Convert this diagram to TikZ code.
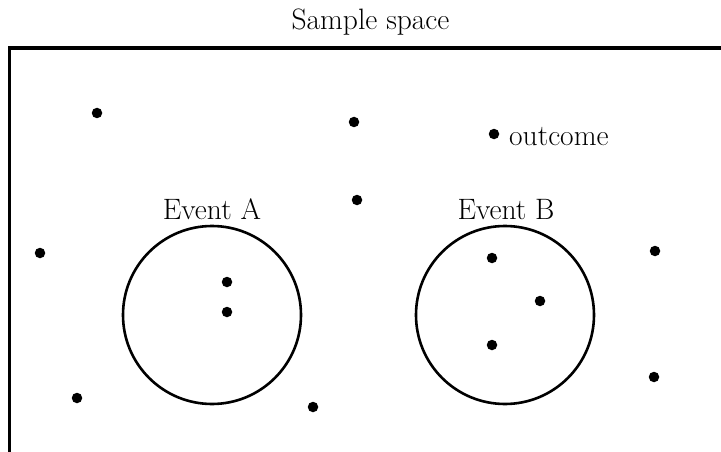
\documentclass[tikz,border=0pt]{standalone}
\usepackage{fontspec}
\setmainfont{Latin Modern Roman}
\begin{document}
\begin{tikzpicture}[x=1pt,y=-1pt,
  dot/.style={circle,fill=black,inner sep=0pt,minimum size=10.5pt},
  lbl/.style={font=\fontsize{29.5}{33}\selectfont,inner sep=0pt},
  evt/.style={circle,draw=black,line width=2.6pt,minimum size=178pt,inner sep=0pt}]
\useasboundingbox (0,0) rectangle (721,452);
\coordinate (fb) at (9.5,452);
\coordinate (fc) at (9.5,48);
\coordinate (fr) at (721,48);
\draw[line width=3.6pt,line join=miter] (fb) -- (fc) -- (fr);
\node[lbl,anchor=base] (title) at (370.5,30) {Sample space};
\node[evt] (A) at (212,315) {};
\node[evt] (B) at (505,315) {};
\node[lbl,anchor=base] (la) at (212,219) {Event\hspace{9pt}A};
\node[lbl,anchor=base] (lb) at (506,219) {Event B};
\node[dot] (d1) at (97,113) {};
\node[dot] (d2) at (354,122) {};
\node[dot] (d3) at (494,134) {};
\node[lbl,anchor=base west] (out) at (509,146) {outcome};
\node[dot] (d4) at (357,200) {};
\node[dot] (d5) at (40,253) {};
\node[dot] (d6) at (227,282) {};
\node[dot] (d7) at (227,312) {};
\node[dot] (d8) at (492,258) {};
\node[dot] (d9) at (540,301) {};
\node[dot] (d10) at (492,345) {};
\node[dot] (d11) at (655,251) {};
\node[dot] (d12) at (654,377) {};
\node[dot] (d13) at (77,398) {};
\node[dot] (d14) at (313,407) {};
\end{tikzpicture}
\end{document}
